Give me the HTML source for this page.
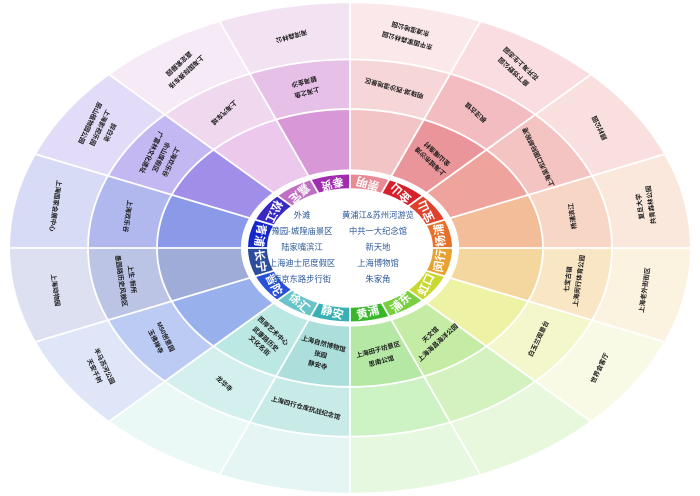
<!DOCTYPE html>
<html><head><meta charset="utf-8"><style>
html,body{margin:0;padding:0;background:#fff;width:700px;height:496px;overflow:hidden}
svg{display:block;overflow:hidden;font-family:"Liberation Sans","Noto Sans CJK SC",sans-serif}
.t{font-size:6.5px;fill:#1a1a1a;font-weight:bold;text-anchor:middle;dominant-baseline:central}
.l{font-size:11.5px;fill:#fff;font-weight:bold;text-anchor:middle;dominant-baseline:central}
.c{font-size:8.3px;fill:#2b5797;text-anchor:middle;dominant-baseline:central}
</style></head><body>
<svg width="700" height="496" viewBox="0 0 700 496">
<g transform="translate(350 248) scale(1 .72)" fill="none">
<g stroke-width="84">
<circle r="151" pathLength="16" stroke-dasharray="1 15" stroke="#f3c4c6" transform="rotate(-90)"/>
<circle r="151" pathLength="16" stroke-dasharray="1 15" stroke="#ea959a" transform="rotate(-67.5)"/>
<circle r="151" pathLength="16" stroke-dasharray="1 15" stroke="#eea49c" transform="rotate(-45)"/>
<circle r="151" pathLength="16" stroke-dasharray="1 15" stroke="#f3bd9a" transform="rotate(-22.5)"/>
<circle r="151" pathLength="16" stroke-dasharray="1 15" stroke="#f4d79e" transform="rotate(0)"/>
<circle r="151" pathLength="16" stroke-dasharray="1 15" stroke="#eef2a4" transform="rotate(22.5)"/>
<circle r="151" pathLength="16" stroke-dasharray="1 15" stroke="#c4eca4" transform="rotate(45)"/>
<circle r="151" pathLength="16" stroke-dasharray="1 15" stroke="#b4e8a4" transform="rotate(67.5)"/>
<circle r="151" pathLength="16" stroke-dasharray="1 15" stroke="#acdedc" transform="rotate(90)"/>
<circle r="151" pathLength="16" stroke-dasharray="1 15" stroke="#bce8e4" transform="rotate(112.5)"/>
<circle r="151" pathLength="16" stroke-dasharray="1 15" stroke="#98b0ec" transform="rotate(135)"/>
<circle r="151" pathLength="16" stroke-dasharray="1 15" stroke="#a0acd8" transform="rotate(157.5)"/>
<circle r="151" pathLength="16" stroke-dasharray="1 15" stroke="#8a9ae8" transform="rotate(180)"/>
<circle r="151" pathLength="16" stroke-dasharray="1 15" stroke="#a08ee8" transform="rotate(202.5)"/>
<circle r="151" pathLength="16" stroke-dasharray="1 15" stroke="#ecc8ec" transform="rotate(225)"/>
<circle r="151" pathLength="16" stroke-dasharray="1 15" stroke="#d898d8" transform="rotate(247.5)"/>
</g>
<g stroke-width="69">
<circle r="227.5" pathLength="16" stroke-dasharray="1 15" stroke="#f7d6d8" transform="rotate(-90)"/>
<circle r="227.5" pathLength="16" stroke-dasharray="1 15" stroke="#f2bcc0" transform="rotate(-67.5)"/>
<circle r="227.5" pathLength="16" stroke-dasharray="1 15" stroke="#f4c4c2" transform="rotate(-45)"/>
<circle r="227.5" pathLength="16" stroke-dasharray="1 15" stroke="#f7d6c6" transform="rotate(-22.5)"/>
<circle r="227.5" pathLength="16" stroke-dasharray="1 15" stroke="#f8e6c4" transform="rotate(0)"/>
<circle r="227.5" pathLength="16" stroke-dasharray="1 15" stroke="#f4f6cc" transform="rotate(22.5)"/>
<circle r="227.5" pathLength="16" stroke-dasharray="1 15" stroke="#d4f2c0" transform="rotate(45)"/>
<circle r="227.5" pathLength="16" stroke-dasharray="1 15" stroke="#cdf2c4" transform="rotate(67.5)"/>
<circle r="227.5" pathLength="16" stroke-dasharray="1 15" stroke="#c8ebe8" transform="rotate(90)"/>
<circle r="227.5" pathLength="16" stroke-dasharray="1 15" stroke="#d4f0ee" transform="rotate(112.5)"/>
<circle r="227.5" pathLength="16" stroke-dasharray="1 15" stroke="#bccbf4" transform="rotate(135)"/>
<circle r="227.5" pathLength="16" stroke-dasharray="1 15" stroke="#bcc4e6" transform="rotate(157.5)"/>
<circle r="227.5" pathLength="16" stroke-dasharray="1 15" stroke="#b0b8ee" transform="rotate(180)"/>
<circle r="227.5" pathLength="16" stroke-dasharray="1 15" stroke="#c4b8f2" transform="rotate(202.5)"/>
<circle r="227.5" pathLength="16" stroke-dasharray="1 15" stroke="#f0d8ee" transform="rotate(225)"/>
<circle r="227.5" pathLength="16" stroke-dasharray="1 15" stroke="#e6c0e6" transform="rotate(247.5)"/>
</g>
<g stroke-width="78">
<circle r="301" pathLength="16" stroke-dasharray="1 15" stroke="#fbe8ea" transform="rotate(-90)"/>
<circle r="301" pathLength="16" stroke-dasharray="1 15" stroke="#f9dde0" transform="rotate(-67.5)"/>
<circle r="301" pathLength="16" stroke-dasharray="1 15" stroke="#f9e0df" transform="rotate(-45)"/>
<circle r="301" pathLength="16" stroke-dasharray="1 15" stroke="#fbe8dc" transform="rotate(-22.5)"/>
<circle r="301" pathLength="16" stroke-dasharray="1 15" stroke="#fcf2e0" transform="rotate(0)"/>
<circle r="301" pathLength="16" stroke-dasharray="1 15" stroke="#f9fae6" transform="rotate(22.5)"/>
<circle r="301" pathLength="16" stroke-dasharray="1 15" stroke="#e8f8dc" transform="rotate(45)"/>
<circle r="301" pathLength="16" stroke-dasharray="1 15" stroke="#e6f8e0" transform="rotate(67.5)"/>
<circle r="301" pathLength="16" stroke-dasharray="1 15" stroke="#e4f5f4" transform="rotate(90)"/>
<circle r="301" pathLength="16" stroke-dasharray="1 15" stroke="#eaf8f6" transform="rotate(112.5)"/>
<circle r="301" pathLength="16" stroke-dasharray="1 15" stroke="#dee6f8" transform="rotate(135)"/>
<circle r="301" pathLength="16" stroke-dasharray="1 15" stroke="#dde0f0" transform="rotate(157.5)"/>
<circle r="301" pathLength="16" stroke-dasharray="1 15" stroke="#d8dbf6" transform="rotate(180)"/>
<circle r="301" pathLength="16" stroke-dasharray="1 15" stroke="#e2dcf8" transform="rotate(202.5)"/>
<circle r="301" pathLength="16" stroke-dasharray="1 15" stroke="#f6eaf6" transform="rotate(225)"/>
<circle r="301" pathLength="16" stroke-dasharray="1 15" stroke="#f2e2f2" transform="rotate(247.5)"/>
</g>
<circle r="109" fill="#fff"/>
<g stroke-width="19">
<circle r="92.5" pathLength="16" stroke-dasharray="1 15" stroke="#e98a95" transform="rotate(-90)"/>
<circle r="92.5" pathLength="16" stroke-dasharray="1 15" stroke="#d8202a" transform="rotate(-67.5)"/>
<circle r="92.5" pathLength="16" stroke-dasharray="1 15" stroke="#e0402c" transform="rotate(-45)"/>
<circle r="92.5" pathLength="16" stroke-dasharray="1 15" stroke="#e8702a" transform="rotate(-22.5)"/>
<circle r="92.5" pathLength="16" stroke-dasharray="1 15" stroke="#e8a030" transform="rotate(0)"/>
<circle r="92.5" pathLength="16" stroke-dasharray="1 15" stroke="#c8d82c" transform="rotate(22.5)"/>
<circle r="92.5" pathLength="16" stroke-dasharray="1 15" stroke="#78d040" transform="rotate(45)"/>
<circle r="92.5" pathLength="16" stroke-dasharray="1 15" stroke="#38b828" transform="rotate(67.5)"/>
<circle r="92.5" pathLength="16" stroke-dasharray="1 15" stroke="#38b0b4" transform="rotate(90)"/>
<circle r="92.5" pathLength="16" stroke-dasharray="1 15" stroke="#68c4c8" transform="rotate(112.5)"/>
<circle r="92.5" pathLength="16" stroke-dasharray="1 15" stroke="#2850d8" transform="rotate(135)"/>
<circle r="92.5" pathLength="16" stroke-dasharray="1 15" stroke="#2c4c9c" transform="rotate(157.5)"/>
<circle r="92.5" pathLength="16" stroke-dasharray="1 15" stroke="#1428cc" transform="rotate(180)"/>
<circle r="92.5" pathLength="16" stroke-dasharray="1 15" stroke="#3828c4" transform="rotate(202.5)"/>
<circle r="92.5" pathLength="16" stroke-dasharray="1 15" stroke="#c070c4" transform="rotate(225)"/>
<circle r="92.5" pathLength="16" stroke-dasharray="1 15" stroke="#a02cb0" transform="rotate(247.5)"/>
</g>
<g stroke="#fff" stroke-width="1.8">
<circle r="193" vector-effect="non-scaling-stroke"/>
<circle r="262" vector-effect="non-scaling-stroke"/>
<line x1="82" x2="341" vector-effect="non-scaling-stroke"/>
<line x1="82" x2="341" transform="rotate(22.5)" vector-effect="non-scaling-stroke"/>
<line x1="82" x2="341" transform="rotate(45)" vector-effect="non-scaling-stroke"/>
<line x1="82" x2="341" transform="rotate(67.5)" vector-effect="non-scaling-stroke"/>
<line x1="82" x2="341" transform="rotate(90)" vector-effect="non-scaling-stroke"/>
<line x1="82" x2="341" transform="rotate(112.5)" vector-effect="non-scaling-stroke"/>
<line x1="82" x2="341" transform="rotate(135)" vector-effect="non-scaling-stroke"/>
<line x1="82" x2="341" transform="rotate(157.5)" vector-effect="non-scaling-stroke"/>
<line x1="82" x2="341" transform="rotate(180)" vector-effect="non-scaling-stroke"/>
<line x1="82" x2="341" transform="rotate(202.5)" vector-effect="non-scaling-stroke"/>
<line x1="82" x2="341" transform="rotate(225)" vector-effect="non-scaling-stroke"/>
<line x1="82" x2="341" transform="rotate(247.5)" vector-effect="non-scaling-stroke"/>
<line x1="82" x2="341" transform="rotate(270)" vector-effect="non-scaling-stroke"/>
<line x1="82" x2="341" transform="rotate(292.5)" vector-effect="non-scaling-stroke"/>
<line x1="82" x2="341" transform="rotate(315)" vector-effect="non-scaling-stroke"/>
<line x1="82" x2="341" transform="rotate(337.5)" vector-effect="non-scaling-stroke"/>
</g>
</g>

<g>
<text class="l" transform="translate(350 248) scale(1 .72) rotate(-78.75) translate(92.5 0) rotate(78.75) scale(1 1.3889) rotate(-164.56)">崇明</text>
<text class="l" transform="translate(350 248) scale(1 .72) rotate(-56.25) translate(92.5 0) rotate(56.25) scale(1 1.3889) rotate(-137.14)">金山</text>
<text class="l" transform="translate(350 248) scale(1 .72) rotate(-33.75) translate(92.5 0) rotate(33.75) scale(1 1.3889) rotate(-115.69)">宝山</text>
<text class="l" transform="translate(350 248) scale(1 .72) rotate(-11.25) translate(92.5 0) rotate(11.25) scale(1 1.3889) rotate(-98.15)">杨浦</text>
<text class="l" transform="translate(350 248) scale(1 .72) rotate(11.25) translate(92.5 0) rotate(-11.25) scale(1 1.3889) rotate(-81.85)">闵行</text>
<text class="l" transform="translate(350 248) scale(1 .72) rotate(33.75) translate(92.5 0) rotate(-33.75) scale(1 1.3889) rotate(-64.31)">虹口</text>
<text class="l" transform="translate(350 248) scale(1 .72) rotate(56.25) translate(92.5 0) rotate(-56.25) scale(1 1.3889) rotate(-42.86)">浦东</text>
<text class="l" transform="translate(350 248) scale(1 .72) rotate(78.75) translate(92.5 0) rotate(-78.75) scale(1 1.3889) rotate(-15.44)">黄浦</text>
<text class="l" transform="translate(350 248) scale(1 .72) rotate(101.25) translate(92.5 0) rotate(-101.25) scale(1 1.3889) rotate(15.44)">静安</text>
<text class="l" transform="translate(350 248) scale(1 .72) rotate(123.75) translate(92.5 0) rotate(-123.75) scale(1 1.3889) rotate(42.86)">徐汇</text>
<text class="l" transform="translate(350 248) scale(1 .72) rotate(146.25) translate(92.5 0) rotate(-146.25) scale(1 1.3889) rotate(64.31)">普陀</text>
<text class="l" transform="translate(350 248) scale(1 .72) rotate(168.75) translate(92.5 0) rotate(-168.75) scale(1 1.3889) rotate(81.85)">长宁</text>
<text class="l" transform="translate(350 248) scale(1 .72) rotate(191.25) translate(92.5 0) rotate(-191.25) scale(1 1.3889) rotate(98.15)">青浦</text>
<text class="l" transform="translate(350 248) scale(1 .72) rotate(213.75) translate(92.5 0) rotate(-213.75) scale(1 1.3889) rotate(115.69)">松江</text>
<text class="l" transform="translate(350 248) scale(1 .72) rotate(236.25) translate(92.5 0) rotate(-236.25) scale(1 1.3889) rotate(137.14)">嘉定</text>
<text class="l" transform="translate(350 248) scale(1 .72) rotate(258.75) translate(92.5 0) rotate(-258.75) scale(1 1.3889) rotate(164.56)">奉贤</text>
</g>

<g>
<text class="c" x="302" y="215">外滩</text>
<text class="c" x="302" y="231">豫园-城隍庙景区</text>
<text class="c" x="302" y="247">陆家嘴滨江</text>
<text class="c" x="302" y="263">上海迪士尼度假区</text>
<text class="c" x="302" y="279">南京东路步行街</text>
<text class="c" x="378" y="215">黄浦江&amp;苏州河游览</text>
<text class="c" x="378" y="231">中共一大纪念馆</text>
<text class="c" x="378" y="247">新天地</text>
<text class="c" x="378" y="263">上海博物馆</text>
<text class="c" x="378" y="279">朱家角</text>
</g>

<g>
<text class="t" transform="translate(350 248) scale(1 .72) rotate(-78.75) translate(227.5 0) rotate(78.75) scale(1 1.3889) rotate(-164.56)">明珠湖·西沙湿地景区</text>
<text class="t" transform="translate(350 248) scale(1 .72) rotate(-78.75) translate(301 0) rotate(78.75) scale(1 1.3889) rotate(-164.56)"><tspan x="0" dy="-5">东平国家森林公园</tspan><tspan x="0" dy="12">东滩湿地公园</tspan></text>
<text class="t" transform="translate(350 248) scale(1 .72) rotate(-56.25) translate(151 0) rotate(56.25) scale(1 1.3889) rotate(-137.14)"><tspan x="0" dy="-5">上海城市沙滩</tspan><tspan x="0" dy="10">金山嘴渔村</tspan></text>
<text class="t" transform="translate(350 248) scale(1 .72) rotate(-56.25) translate(227.5 0) rotate(56.25) scale(1 1.3889) rotate(-137.14)">枫泾古镇</text>
<text class="t" transform="translate(350 248) scale(1 .72) rotate(-56.25) translate(301 0) rotate(56.25) scale(1 1.3889) rotate(-137.14)"><tspan x="0" dy="-5">廊下郊野公园</tspan><tspan x="0" dy="11">花开海上生态园</tspan></text>
<text class="t" transform="translate(350 248) scale(1 .72) rotate(-33.75) translate(227.5 0) rotate(33.75) scale(1 1.3889) rotate(-115.69)">上海吴淞口国际邮轮港</text>
<text class="t" transform="translate(350 248) scale(1 .72) rotate(-33.75) translate(301 0) rotate(33.75) scale(1 1.3889) rotate(-115.69)">顾村公园</text>
<text class="t" transform="translate(350 248) scale(1 .72) rotate(-11.25) translate(227.5 0) rotate(11.25) scale(1 1.3889) rotate(-98.15)">杨浦滨江</text>
<text class="t" transform="translate(350 248) scale(1 .72) rotate(-11.25) translate(301 0) rotate(11.25) scale(1 1.3889) rotate(-98.15)"><tspan x="0" dy="-5">复旦大学</tspan><tspan x="0" dy="11">共青森林公园</tspan></text>
<text class="t" transform="translate(350 248) scale(1 .72) rotate(11.25) translate(227.5 0) rotate(-11.25) scale(1 1.3889) rotate(-81.85)"><tspan x="0" dy="-5">七宝古镇</tspan><tspan x="0" dy="11">上海闵行体育公园</tspan></text>
<text class="t" transform="translate(350 248) scale(1 .72) rotate(11.25) translate(301 0) rotate(-11.25) scale(1 1.3889) rotate(-81.85)">上海老外街街区</text>
<text class="t" transform="translate(350 248) scale(1 .72) rotate(33.75) translate(227.5 0) rotate(-33.75) scale(1 1.3889) rotate(-64.31)">白玉兰观景台</text>
<text class="t" transform="translate(350 248) scale(1 .72) rotate(33.75) translate(301 0) rotate(-33.75) scale(1 1.3889) rotate(-64.31)">世界会客厅</text>
<text class="t" transform="translate(350 248) scale(1 .72) rotate(56.25) translate(151 0) rotate(-56.25) scale(1 1.3889) rotate(-42.86)"><tspan x="0" dy="-5">天文馆</tspan><tspan x="0" dy="11">上海海昌海洋公园</tspan></text>
<text class="t" transform="translate(350 248) scale(1 .72) rotate(78.75) translate(151 0) rotate(-78.75) scale(1 1.3889) rotate(-15.44)"><tspan x="0" dy="-5">上海田子坊景区</tspan><tspan x="0" dy="12">思南公馆</tspan></text>
<text class="t" transform="translate(350 248) scale(1 .72) rotate(101.25) translate(151 0) rotate(-101.25) scale(1 1.3889) rotate(15.44)"><tspan x="0" dy="-11">上海自然博物馆</tspan><tspan x="0" dy="11">张园</tspan><tspan x="0" dy="11">静安寺</tspan></text>
<text class="t" transform="translate(350 248) scale(1 .72) rotate(101.25) translate(227.5 0) rotate(-101.25) scale(1 1.3889) rotate(15.44)">上海四行仓库抗战纪念馆</text>
<text class="t" transform="translate(350 248) scale(1 .72) rotate(123.75) translate(151 0) rotate(-123.75) scale(1 1.3889) rotate(42.86)"><tspan x="0" dy="-10">西岸艺术中心</tspan><tspan x="0" dy="11">武康路历史</tspan><tspan x="0" dy="9">文化名街</tspan></text>
<text class="t" transform="translate(350 248) scale(1 .72) rotate(123.75) translate(227.5 0) rotate(-123.75) scale(1 1.3889) rotate(42.86)">龙华寺</text>
<text class="t" transform="translate(350 248) scale(1 .72) rotate(146.25) translate(227.5 0) rotate(-146.25) scale(1 1.3889) rotate(64.31)"><tspan x="0" dy="-5">M50创意园</tspan><tspan x="0" dy="11">玉佛禅寺</tspan></text>
<text class="t" transform="translate(350 248) scale(1 .72) rotate(146.25) translate(301 0) rotate(-146.25) scale(1 1.3889) rotate(64.31)"><tspan x="0" dy="-5">半马苏河公园</tspan><tspan x="0" dy="11">天安千树</tspan></text>
<text class="t" transform="translate(350 248) scale(1 .72) rotate(168.75) translate(227.5 0) rotate(-168.75) scale(1 1.3889) rotate(81.85)"><tspan x="0" dy="-5">上生·新所</tspan><tspan x="0" dy="11">愚园路历史风貌区</tspan></text>
<text class="t" transform="translate(350 248) scale(1 .72) rotate(168.75) translate(301 0) rotate(-168.75) scale(1 1.3889) rotate(81.85)">上海动物园</text>
<text class="t" transform="translate(350 248) scale(1 .72) rotate(191.25) translate(227.5 0) rotate(-191.25) scale(1 1.3889) rotate(98.15)">上海欢乐谷</text>
<text class="t" transform="translate(350 248) scale(1 .72) rotate(191.25) translate(301 0) rotate(-191.25) scale(1 1.3889) rotate(98.15)">上海国家会展中心</text>
<text class="t" transform="translate(350 248) scale(1 .72) rotate(213.75) translate(227.5 0) rotate(-213.75) scale(1 1.3889) rotate(115.69)"><tspan x="0" dy="-11">上海欢乐谷</tspan><tspan x="0" dy="11">佘山度假区</tspan><tspan x="0" dy="11">广富林文化遗址</tspan></text>
<text class="t" transform="translate(350 248) scale(1 .72) rotate(213.75) translate(301 0) rotate(-213.75) scale(1 1.3889) rotate(115.69)"><tspan x="0" dy="-11">醉白池</tspan><tspan x="0" dy="11">上海影视乐园</tspan><tspan x="0" dy="11">辰山植物园公园</tspan></text>
<text class="t" transform="translate(350 248) scale(1 .72) rotate(236.25) translate(227.5 0) rotate(-236.25) scale(1 1.3889) rotate(137.14)">上海汽车城</text>
<text class="t" transform="translate(350 248) scale(1 .72) rotate(236.25) translate(301 0) rotate(-236.25) scale(1 1.3889) rotate(137.14)"><tspan x="0" dy="-5">上海国际赛车场</tspan><tspan x="0" dy="11">嘉定紫藤园</tspan></text>
<text class="t" transform="translate(350 248) scale(1 .72) rotate(258.75) translate(227.5 0) rotate(-258.75) scale(1 1.3889) rotate(164.56)"><tspan x="0" dy="-5">上海之鱼</tspan><tspan x="0" dy="11">碧海金沙</tspan></text>
<text class="t" transform="translate(350 248) scale(1 .72) rotate(258.75) translate(301 0) rotate(-258.75) scale(1 1.3889) rotate(164.56)">海湾森林公</text>
</g>
</svg>
</body></html>
